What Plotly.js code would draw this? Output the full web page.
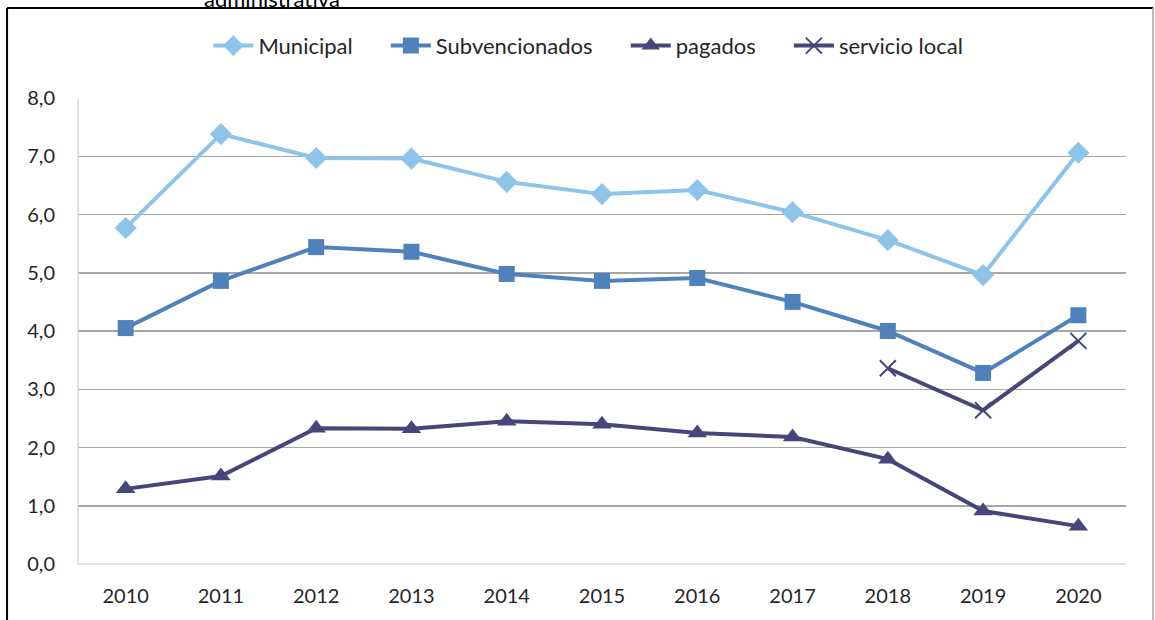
<!DOCTYPE html>
<html>
<head>
<meta charset="utf-8">
<script src="https://cdn.plot.ly/plotly-3.0.1.min.js"></script>
<style>
  html, body { margin: 0; padding: 0; background: #fff; }
  #chart { width: 1155px; height: 620px; }
</style>
</head>
<body>
<div id="chart"></div>
<script>
var years = ["2010", "2011", "2012", "2013", "2014", "2015", "2016", "2017", "2018", "2019", "2020"];
var municipal = [5.77, 7.38, 6.97, 6.96, 6.56, 6.35, 6.42, 6.04, 5.56, 4.96, 7.06];
var subvencionados = [4.05, 4.86, 5.44, 5.36, 4.98, 4.86, 4.91, 4.50, 4.00, 3.28, 4.27];
var pagados = [1.29, 1.51, 2.33, 2.32, 2.45, 2.40, 2.25, 2.18, 1.80, 0.91, 0.65];
var localYears = ["2018", "2019", "2020"];
var servicioLocal = [3.36, 2.64, 3.83];

var font = "Lato, 'Open Sans', sans-serif";
var pad = "\u00a0\u00a0\u00a0\u00a0\u00a0";

var data = [
  {
    x: years, y: municipal, name: "Municipal" + pad, type: "scatter", mode: "lines+markers",
    line: {color: "#8fc4ea", width: 4},
    marker: {symbol: "diamond", size: 17, color: "#8fc4ea"}
  },
  {
    x: years, y: subvencionados, name: "Subvencionados" + pad, type: "scatter", mode: "lines+markers",
    line: {color: "#4f81bd", width: 4},
    marker: {symbol: "square", size: 16, color: "#4f81bd"}
  },
  {
    x: years, y: pagados, name: "pagados" + pad, type: "scatter", mode: "lines+markers",
    line: {color: "#47467a", width: 4},
    marker: {symbol: "triangle-up", size: 17, color: "#47467a"}
  },
  {
    x: localYears, y: servicioLocal, name: "servicio local", type: "scatter", mode: "lines+markers",
    line: {color: "#47467a", width: 4},
    marker: {symbol: "x-thin", size: 16, line: {color: "#47467a", width: 2}}
  }
];

var layout = {
  width: 1155,
  height: 620,
  margin: {l: 78, r: 29, t: 98, b: 56, autoexpand: false},
  paper_bgcolor: "#fff",
  plot_bgcolor: "#fff",
  separators: ",.",
  font: {family: font, size: 20, color: "#262626"},
  showlegend: true,
  legend: {
    orientation: "h",
    x: 0.487, xanchor: "center",
    y: 1.112, yanchor: "middle",
    bgcolor: "rgba(0,0,0,0)",
    font: {family: font, size: 22, color: "#262626"},
    itemwidth: 40,
    traceorder: "normal"
  },
  xaxis: {
    type: "category",
    range: [-0.5, 10.5],
    showgrid: false,
    showline: false,
    zeroline: false,
    ticks: "",
    ticklabelstandoff: 18,
    tickfont: {family: font, size: 20, color: "#262626"}
  },
  yaxis: {
    range: [0, 8],
    dtick: 1,
    tickformat: ".1f",
    showgrid: true,
    gridcolor: "#a6a6a6",
    gridwidth: 1.5,
    zeroline: false,
    showline: false,
    ticks: "",
    ticklabelstandoff: 22,
    tickfont: {family: font, size: 20, color: "#262626"}
  },
  shapes: [
    // frame around the chart
    {type: "line", xref: "paper", yref: "paper", x0: -0.0677, x1: -0.0677, y0: 1.193, y1: -0.2, line: {color: "#000", width: 2}},
    {type: "line", xref: "paper", yref: "paper", x0: -0.0677, x1: 1.0258, y0: 1.193, y1: 1.193, line: {color: "#000", width: 2}},
    {type: "line", xref: "paper", yref: "paper", x0: 1.0258, x1: 1.0258, y0: 1.193, y1: -0.2, line: {color: "#a6a6a6", width: 1.5}},
    // axis lines
    {type: "line", xref: "paper", yref: "paper", x0: 0, x1: 1, y0: 0, y1: 0, line: {color: "#d9d9d9", width: 1.5}},
    {type: "line", xref: "paper", yref: "paper", x0: 0, x1: 0, y0: 0, y1: 1, line: {color: "#d9d9d9", width: 1.5}}
  ],
  annotations: [
    {
      text: "administrativa", xref: "paper", yref: "paper",
      x: 0.185, y: 1.18, xanchor: "center", yanchor: "bottom",
      showarrow: false, font: {family: font, size: 22, color: "#000"}
    }
  ]
};

Plotly.newPlot("chart", data, layout, {displayModeBar: false, staticPlot: true});
</script>
</body>
</html>
